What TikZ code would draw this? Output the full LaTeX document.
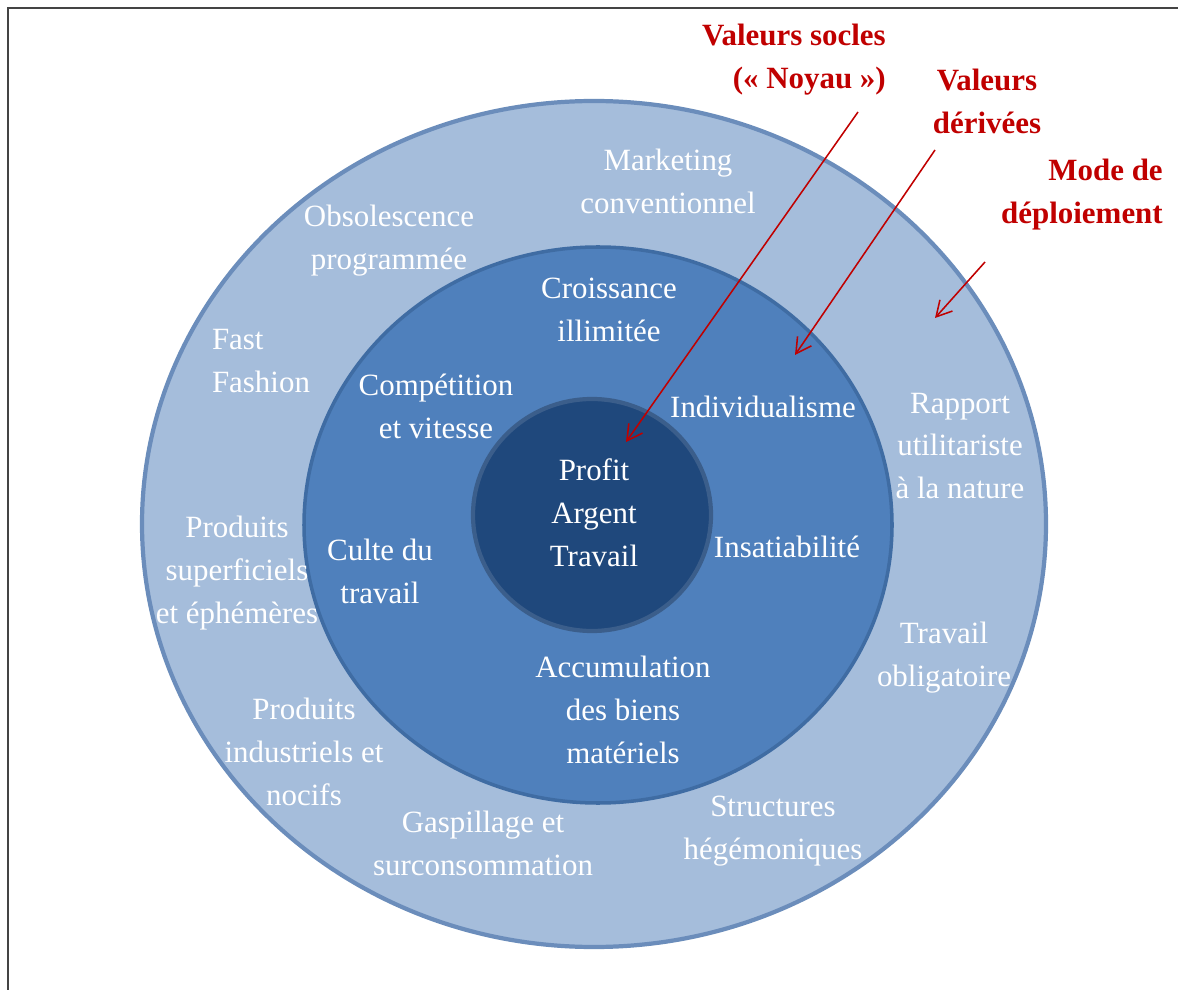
\documentclass[tikz,border=0pt]{standalone}
\usepackage{fontspec}
\setmainfont{Liberation Serif}
\usetikzlibrary{arrows.meta}

\definecolor{ringlight}{HTML}{A5BDDB}
\definecolor{ringlightedge}{HTML}{6B8DBB}
\definecolor{ringmid}{HTML}{4F80BC}
\definecolor{ringmidedge}{HTML}{3F6CA3}
\definecolor{ringcore}{HTML}{1F487C}
\definecolor{ringcoreedge}{HTML}{3B5E8B}
\definecolor{callred}{HTML}{C00000}
\definecolor{framegray}{HTML}{444444}

\begin{document}
\begin{tikzpicture}[
    x=0.025cm,
    y=-0.025cm,
    font=\fontsize{22}{30.5}\selectfont,
    value/.style={
        text=white,
        align=center,
        inner sep=0pt
    },
    callout/.style={
        text=callred,
        font=\fontsize{22}{30.5}\selectfont\bfseries,
        inner sep=0pt
    },
    arrow/.style={
        draw=callred,
        line width=1.1pt,
        -{Straight Barb[length=0.38cm, width=0.42cm, line width=1.1pt]}
    }
]

\useasboundingbox (0,0) rectangle (1178,990);

% Frame
\draw[framegray, line width=2pt] (8,990) -- (8,8) -- (1178,8);

% Rings
\draw[fill=ringlight, draw=ringlightedge, line width=3pt]
    (594,524) ellipse [x radius=452, y radius=423];
\draw[fill=ringmid, draw=ringmidedge, line width=2.5pt]
    (598,525) ellipse [x radius=294, y radius=278];
\draw[fill=ringcore, draw=ringcoreedge, line width=3pt]
    (592,515) ellipse [x radius=119, y radius=116];

% Core values
\node[value] (core) at (594,513) {Profit\\Argent\\Travail};

% Derived values
\node[value] (croissance) at (609,310) {Croissance\\illimitée};
\node[value] (competition) at (436,406) {Compétition\\et vitesse};
\node[value] (individu) at (763,407) {Individualisme};
\node[value] (culte) at (380,571) {Culte du\\travail};
\node[value] (insatiable) at (787,547) {Insatiabilité};
\node[value] (accumulation) at (623,710) {Accumulation\\des biens\\matériels};

% Deployment modes
\node[value] (marketing) at (668,181) {Marketing\\conventionnel};
\node[value] (obsolescence) at (389,241) {Obsolescence\\programmée};
\node[value, align=left] (fashion) at (261,361) {Fast\\Fashion};
\node[value] (rapport) at (960,446) {Rapport\\utilitariste\\à la nature};
\node[value] (superficiels) at (237,573) {Produits\\superficiels\\et éphémères};
\node[value] (obligatoire) at (944,658) {Travail\\obligatoire};
\node[value] (industriels) at (304,752) {Produits\\industriels et\\nocifs};
\node[value] (gaspillage) at (483,843) {Gaspillage et\\surconsommation};
\node[value] (structures) at (773,831) {Structures\\hégémoniques};

% Callouts
\node[callout, align=right, anchor=east] (socles) at (886,60) {Valeurs socles\\(« Noyau »)};
\node[callout, align=center] (derivees) at (987,101) {Valeurs\\dérivées};
\node[callout, align=right, anchor=east] (deploiement) at (1163,195) {Mode de\\déploiement};

\coordinate (socles tail) at (858,112);
\coordinate (socles tip) at (626,442);
\coordinate (derivees tail) at (935,150);
\coordinate (derivees tip) at (795,355);
\coordinate (deploiement tail) at (985,262);
\coordinate (deploiement tip) at (935,318);

% Pointer arrows
\draw[arrow] (socles tail) -- (socles tip);
\draw[arrow] (derivees tail) -- (derivees tip);
\draw[arrow] (deploiement tail) -- (deploiement tip);

\end{tikzpicture}
\end{document}
